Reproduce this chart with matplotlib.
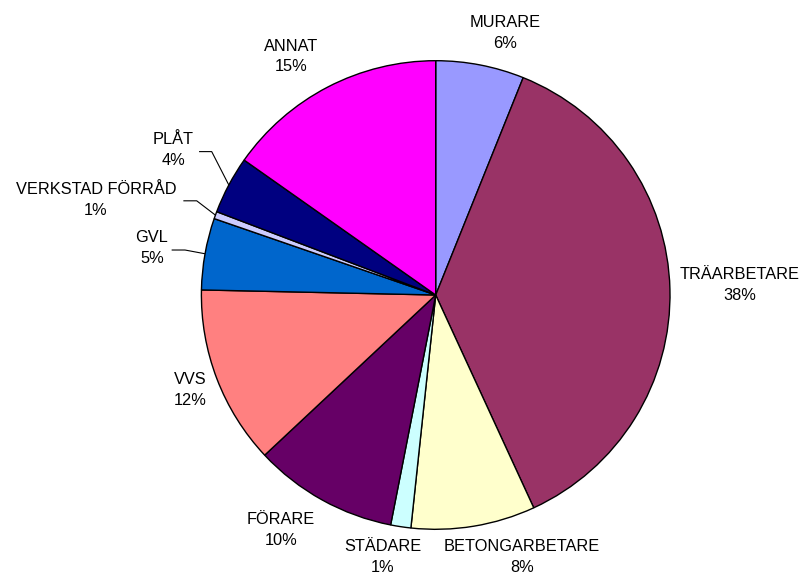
import numpy as np
import matplotlib
matplotlib.use("Agg")
import matplotlib.pyplot as plt

# andel per yrkesgrupp (procent)
categories = ["MURARE", "TRÄARBETARE", "BETONGARBETARE", "STÄDARE", "FÖRARE",
              "VVS", "GVL", "VERKSTAD FÖRRÅD", "PLÅT", "ANNAT"]
values = [6.09, 37.03, 8.56, 1.39, 9.94, 12.32, 4.94, 0.50, 3.98, 15.23]
pct_labels = ["6%", "38%", "8%", "1%", "10%", "12%", "5%", "1%", "4%", "15%"]
colors = ["#9999FF", "#993366", "#FFFFCC", "#CCFFFF", "#660066",
          "#FF8080", "#0066CC", "#CCCCFF", "#000080", "#FF00FF"]

# label placement, in pie radius units relative to the centre
label_pos = [(0.296, 1.118), (1.298, 0.043), (0.368, -1.118), (-0.225, -1.118),
             (-0.660, -1.003), (-1.049, -0.405), (-1.211, 0.201),
             (-1.450, 0.405), (-1.119, 0.619), (-0.616, 1.018)]
# leader lines: (slice index, x start, x elbow, y)
leaders = [(8, -1.010, -0.956, 0.612),
           (7, -1.077, -1.020, 0.402),
           (6, -1.127, -1.070, 0.192)]

W, H = 807, 575
cx, cy, R = 435.7, 295.0, 234.3

plt.rcParams['font.family'] = ['Liberation Sans', 'DejaVu Sans']
fig = plt.figure(figsize=(W / 100, H / 100), dpi=100)
ax = fig.add_axes([0, 0, 1, 1])

wedges, _ = ax.pie(values, colors=colors, startangle=90, counterclock=False,
                   radius=1.0, center=(0, 0), frame=True,
                   wedgeprops=dict(edgecolor="black", linewidth=1.0))
ax.set_xlim(-cx / R, (W - cx) / R)
ax.set_ylim(-(H - cy) / R, cy / R)
ax.set_aspect("auto")
ax.axis("off")

for name, pct, (x, y) in zip(categories, pct_labels, label_pos):
    ax.text(x, y, name + "\n" + pct, ha="center", va="center",
            fontsize=11.8, linespacing=1.45, color="black")

for i, x0, x1, y in leaders:
    w = wedges[i]
    mid = np.deg2rad((w.theta1 + w.theta2) / 2)
    ax.plot([x0, x1, np.cos(mid)], [y, y, np.sin(mid)],
            color="black", linewidth=0.8, solid_capstyle="butt")

fig.savefig("out.png", dpi=100)
